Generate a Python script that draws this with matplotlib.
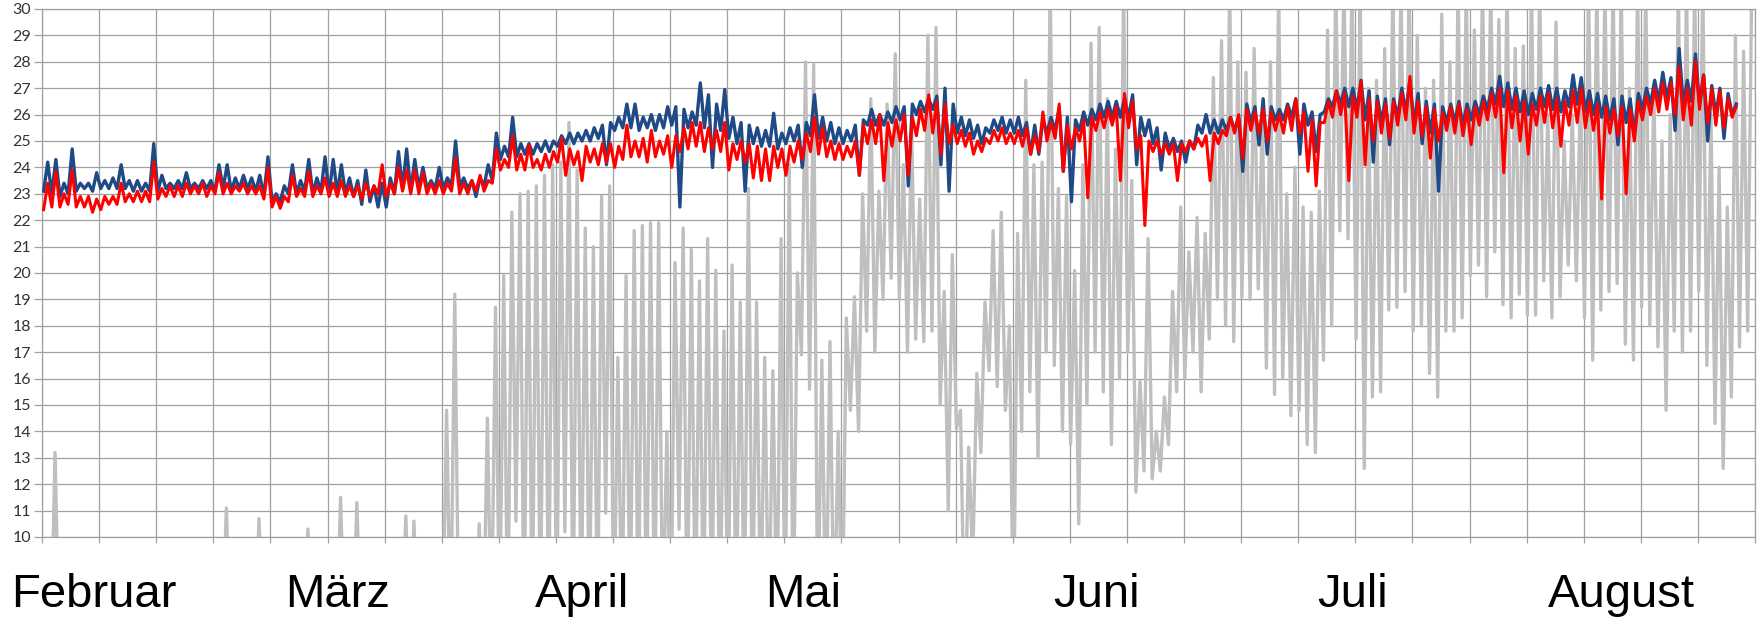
import numpy as np
import matplotlib.pyplot as plt

# Tageswerte (Max / Min), eine Zeile = eine Woche ab 1. Februar
blue_hi = [
    24.2, 24.3, 23.4, 24.7, 23.4, 23.4, 23.8,
    23.5, 23.6, 24.1, 23.5, 23.5, 23.4, 24.9,
    23.7, 23.4, 23.5, 23.8, 23.4, 23.5, 23.5,
    24.1, 24.1, 23.6, 23.7, 23.6, 23.7, 24.4,
    23.0, 23.3, 24.1, 23.5, 24.3, 23.6, 24.4,
    24.3, 24.1, 23.6, 23.5, 23.9, 23.3, 23.4,
    23.6, 24.6, 24.7, 24.3, 24.0, 23.5, 24.0,
    23.6, 25.0, 23.6, 23.5, 23.6, 24.1, 25.3,
    24.8, 25.9, 24.9, 24.9, 24.9, 25.0, 25.0,
    25.2, 25.3, 25.3, 25.4, 25.5, 25.6, 25.7,
    25.9, 26.4, 26.4, 25.9, 26.0, 26.0, 26.3,
    26.3, 26.2, 26.1, 27.2, 26.75, 26.4, 26.95,
    25.9, 25.7, 25.6, 25.5, 25.4, 26.05, 25.3,
    25.5, 25.6, 25.7, 26.75, 25.9, 25.7, 25.5,
    25.4, 25.6, 25.8, 26.2, 26.0, 26.1, 26.3,
    26.3, 26.4, 26.5, 26.6, 26.7, 27.0, 26.4,
    25.9, 25.8, 25.6, 25.5, 25.8, 25.9, 25.8,
    25.9, 25.7, 25.6, 25.8, 25.9, 26.25, 25.9,
    25.8, 26.1, 26.2, 26.4, 26.5, 26.5, 26.6,
    26.75, 25.9, 25.8, 25.5, 25.3, 25.1, 25.0,
    25.0, 25.6, 26.0, 25.8, 25.8, 25.9, 25.9,
    26.4, 26.3, 26.6, 26.3, 26.2, 26.4, 26.6,
    26.4, 26.1, 26.0, 26.6, 26.9, 27.0, 27.0,
    27.3, 26.9, 26.7, 26.6, 26.6, 27.0, 27.3,
    26.8, 26.5, 26.4, 26.3, 26.4, 26.5, 26.4,
    26.5, 26.7, 27.0, 27.45, 27.2, 27.0, 26.9,
    26.8, 27.0, 27.1, 27.0, 26.9, 27.5, 27.4,
    26.9, 26.8, 26.7, 26.6, 26.7, 26.6, 26.8,
    27.0, 27.3, 27.6, 27.4, 28.5, 27.3, 28.3,
    27.5, 27.1, 27.0, 26.8, 26.4,
]
blue_lo = [
    23.1, 23.0, 22.9, 23.0, 23.1, 23.2, 23.1,
    23.2, 23.2, 23.2, 23.2, 23.1, 23.1, 23.1,
    23.1, 23.2, 23.2, 23.2, 23.2, 23.2, 23.2,
    23.1, 23.2, 23.1, 23.2, 23.2, 23.1, 22.9,
    22.7, 22.7, 23.0, 23.0, 23.1, 23.0, 23.1,
    23.0, 23.0, 23.0, 22.9, 22.6, 22.7, 22.5,
    22.5, 23.0, 23.2, 23.1, 23.2, 23.2, 23.2,
    23.2, 23.3, 23.3, 23.2, 22.9, 23.3, 23.5,
    24.3, 24.4, 24.4, 24.5, 24.5, 24.6, 24.6,
    24.8, 24.9, 24.9, 25.0, 25.0, 25.1, 24.1,
    25.4, 25.5, 25.5, 25.4, 25.5, 25.4, 25.5,
    25.6, 22.5, 25.5, 25.6, 25.5, 24.0, 25.4,
    25.1, 24.9, 23.1, 24.9, 24.8, 24.8, 24.7,
    24.9, 25.0, 24.0, 25.2, 25.1, 25.0, 24.9,
    24.9, 25.0, 23.7, 25.6, 25.6, 25.6, 25.7,
    25.8, 23.3, 26.0, 26.1, 26.2, 24.1, 23.1,
    25.3, 25.2, 25.1, 24.9, 25.3, 25.4, 25.3,
    25.3, 25.2, 24.5, 24.5, 25.3, 25.4, 23.85,
    22.7, 25.4, 25.6, 25.8, 25.9, 25.9, 25.9,
    25.9, 24.1, 25.2, 24.9, 23.9, 24.7, 24.6,
    24.2, 24.7, 25.3, 25.3, 25.3, 25.4, 25.4,
    23.85, 25.7, 24.85, 24.5, 25.8, 25.8, 25.9,
    24.5, 25.6, 24.6, 26.1, 26.3, 26.4, 26.3,
    26.2, 25.8, 24.2, 25.7, 24.86, 25.9, 26.1,
    25.6, 24.9, 25.3, 23.1, 25.7, 25.7, 25.6,
    25.8, 26.0, 26.2, 26.4, 26.3, 26.2, 26.1,
    26.0, 26.2, 26.3, 26.2, 26.1, 26.3, 26.4,
    26.1, 26.0, 25.9, 25.8, 24.86, 25.7, 25.2,
    26.2, 26.4, 26.5, 26.6, 25.4, 26.4, 26.5,
    26.4, 25.0, 26.0, 25.1, 26.0,
]
red_hi = [
    23.4, 23.85, 23.0, 23.9, 22.9, 22.9, 22.8,
    22.9, 22.9, 23.4, 23.0, 23.1, 23.1, 24.2,
    23.2, 23.3, 23.3, 23.4, 23.3, 23.4, 23.3,
    23.8, 23.4, 23.3, 23.4, 23.3, 23.3, 24.0,
    22.9, 22.9, 23.7, 23.2, 23.85, 23.3, 23.6,
    23.4, 23.5, 23.3, 23.3, 23.4, 23.3, 24.1,
    23.4, 24.0, 23.9, 23.9, 23.8, 23.4, 23.5,
    23.4, 24.35, 23.4, 23.5, 23.7, 23.5, 24.7,
    24.3, 25.2, 24.5, 24.85, 24.3, 24.5, 24.6,
    25.1, 24.7, 24.6, 24.8, 24.7, 24.9, 24.9,
    24.8, 25.6, 25.0, 25.1, 25.4, 25.0, 25.2,
    25.2, 25.5, 25.7, 25.7, 25.5, 25.4, 25.7,
    24.9, 25.0, 24.9, 24.8, 24.7, 24.8, 24.7,
    24.8, 25.0, 25.3, 25.9, 25.5, 25.0, 24.9,
    24.8, 25.0, 25.6, 25.8, 26.0, 25.7, 25.8,
    26.0, 25.9, 26.2, 26.75, 26.5, 26.4, 25.6,
    25.4, 25.3, 25.0, 25.1, 25.4, 25.5, 25.3,
    25.4, 25.5, 25.2, 26.1, 25.7, 26.4, 25.6,
    25.5, 25.8, 25.9, 26.1, 26.2, 26.3, 26.8,
    26.5, 25.2, 25.0, 25.0, 24.9, 24.9, 24.9,
    25.0, 25.1, 25.2, 25.3, 25.4, 25.9, 26.0,
    26.2, 26.1, 26.2, 26.1, 26.0, 26.3, 26.6,
    26.1, 25.8, 25.7, 26.5, 26.9, 26.8, 26.7,
    27.26, 26.6, 26.5, 26.4, 26.5, 26.8, 27.45,
    26.5, 26.3, 26.2, 26.1, 26.3, 26.4, 26.2,
    26.3, 26.5, 26.8, 27.0, 26.9, 26.7, 26.5,
    26.4, 26.7, 26.8, 26.6, 26.5, 26.9, 27.0,
    26.5, 26.4, 26.3, 26.2, 26.3, 26.2, 26.5,
    26.7, 27.0, 27.2, 27.2, 27.8, 27.0, 28.0,
    27.5, 27.0, 26.9, 26.6, 26.3,
]
red_lo = [
    22.4, 22.5, 22.5, 22.6, 22.5, 22.5, 22.3,
    22.4, 22.6, 22.6, 22.7, 22.7, 22.7, 22.7,
    22.8, 22.9, 22.9, 22.9, 23.0, 23.0, 22.9,
    23.0, 23.0, 23.0, 23.1, 23.0, 23.0, 22.8,
    22.5, 22.45, 22.7, 22.9, 22.9, 22.9, 23.0,
    22.9, 22.9, 22.9, 22.9, 22.8, 22.9, 23.0,
    22.9, 23.0, 23.1, 23.0, 23.0, 23.0, 23.0,
    23.0, 23.1, 23.0, 23.0, 23.1, 23.1, 23.4,
    23.9, 24.0, 23.9, 23.9, 24.0, 23.9, 24.0,
    24.2, 23.7, 24.1, 23.5, 24.2, 24.1, 24.2,
    24.0, 24.3, 24.4, 24.4, 24.2, 24.4, 24.5,
    24.0, 24.6, 24.7, 24.8, 24.6, 24.7, 24.6,
    23.9, 24.3, 24.2, 23.6, 23.5, 23.5, 24.0,
    23.7, 24.2, 24.3, 24.6, 24.5, 24.4, 24.3,
    24.3, 24.4, 23.7, 24.9, 24.9, 23.5, 24.8,
    25.0, 23.7, 25.2, 25.4, 25.3, 24.5, 24.9,
    24.9, 24.8, 24.5, 24.6, 24.9, 25.0, 24.9,
    24.9, 24.8, 24.5, 24.6, 25.0, 25.1, 23.85,
    24.7, 25.0, 22.85, 25.4, 25.5, 25.6, 23.5,
    25.5, 24.7, 21.8, 24.6, 24.5, 24.5, 23.5,
    24.6, 24.7, 24.8, 23.5, 24.9, 25.2, 25.3,
    24.35, 25.4, 25.3, 25.0, 25.4, 25.3, 25.4,
    25.3, 23.85, 23.3, 25.7, 25.9, 26.0, 23.5,
    25.9, 24.1, 25.0, 25.3, 25.1, 25.6, 25.8,
    25.3, 25.2, 24.35, 25.0, 25.4, 25.3, 25.2,
    24.86, 25.6, 25.8, 25.9, 23.8, 25.5, 25.0,
    24.5, 25.6, 25.7, 25.5, 24.8, 25.6, 25.7,
    25.5, 25.4, 22.8, 25.3, 25.2, 23.0, 25.0,
    25.8, 26.0, 26.1, 26.2, 26.0, 25.8, 25.6,
    26.2, 25.7, 25.6, 25.5, 25.9,
]
gray_hi = [
    8, 13.2, 8, 8, 8, 8, 8,
    8, 8, 8, 8, 8, 8, 8,
    8, 8, 8, 8, 8, 8, 8,
    8, 11.1, 8, 8, 8, 10.7, 8,
    8, 8, 8, 8, 10.3, 8, 8,
    8, 11.5, 8, 11.3, 8, 8, 8,
    8, 8, 10.8, 10.6, 8, 8, 8,
    14.8, 19.2, 8, 8, 10.5, 14.5, 18.7,
    19.9, 22.3, 23.0, 23.1, 23.3, 23.7, 24.1,
    24.2, 25.7, 23.9, 21.7, 21.0, 22.9, 23.3,
    16.8, 19.9, 21.6, 21.8, 21.9, 21.9, 14.0,
    20.4, 21.7, 20.9, 19.7, 21.3, 20.1, 17.8,
    20.3, 18.9, 23.2, 18.9, 16.8, 16.3, 21.3,
    24.1, 20.0, 28.0, 27.9, 16.7, 17.4, 14.0,
    18.3, 19.1, 23.0, 26.6, 23.1, 26.4, 28.3,
    24.1, 25.6, 22.8, 29.0, 29.3, 19.3, 20.7,
    14.8, 13.4, 16.2, 18.9, 21.6, 22.3, 18.0,
    21.5, 27.3, 24.1, 24.2, 31, 23.2, 22.9,
    20.1, 24.1, 28.7, 29.3, 26.6, 24.7, 31,
    23.5, 15.9, 21.3, 14.0, 15.3, 19.3, 22.5,
    20.8, 22.1, 21.5, 27.4, 28.8, 31, 28.0,
    27.6, 28.5, 26.0, 28.0, 31, 23.0, 24.0,
    22.5, 22.3, 23.1, 29.2, 31, 31, 31,
    31, 27.0, 27.3, 28.5, 31, 31, 31,
    29.0, 27.0, 27.3, 29.8, 28.0, 31, 31,
    29.2, 31, 31, 29.6, 31, 28.5, 28.6,
    31, 31, 26.0, 29.5, 25.0, 26.0, 27.0,
    31, 31, 31, 31, 31, 27.0, 31,
    31, 27.0, 25.0, 26.0, 31, 31, 31,
    31, 26.0, 24.0, 22.5, 29.0, 28.4, 31,
]
gray_lo = [
    6, 6, 6, 6, 6, 6, 6,
    6, 6, 6, 6, 6, 6, 6,
    6, 6, 6, 6, 6, 6, 6,
    6, 6, 6, 6, 6, 6, 6,
    6, 6, 6, 6, 6, 6, 6,
    6, 6, 6, 6, 6, 6, 6,
    6, 6, 6, 6, 6, 6, 6,
    6, 6, 6, 6, 6, 6, 6,
    6, 6, 10.6, 6, 6, 6, 6,
    6, 10.2, 6, 6, 6, 6, 10.9,
    6, 6, 6, 6, 6, 6, 6,
    6, 10.3, 6, 6, 6, 6, 6,
    6, 6, 6, 6, 6, 6, 6,
    6, 6, 16.9, 15.6, 6, 6, 6,
    6, 14.8, 14.0, 17.8, 17.0, 19.0, 19.8,
    19.0, 17.0, 17.5, 17.4, 17.8, 15.0, 11.0,
    14.1, 6, 9, 13.2, 16.3, 15.7, 14.8,
    6, 14.0, 15.5, 13.0, 17.0, 16.5, 14.0,
    13.5, 10.5, 15.0, 17.0, 15.5, 13.5, 16.0,
    17.0, 11.7, 12.5, 12.2, 12.5, 13.5, 15.5,
    16.0, 17.0, 15.5, 17.5, 19.0, 18.0, 17.4,
    19.1, 19.0, 19.4, 16.4, 15.4, 16.0, 14.6,
    14.8, 13.5, 13.2, 16.7, 18.0, 21.6, 21.3,
    17.5, 12.6, 15.3, 15.5, 18.6, 18.7, 19.3,
    17.8, 18.0, 16.2, 15.3, 17.8, 17.8, 18.3,
    19.9, 20.3, 19.1, 20.8, 18.8, 18.3, 19.2,
    18.4, 18.4, 19.7, 18.3, 19.1, 20.3, 19.7,
    18.3, 16.7, 18.6, 19.3, 19.6, 17.3, 16.7,
    18.7, 18.0, 17.2, 14.8, 17.8, 17.0, 17.8,
    19.3, 16.5, 14.3, 12.6, 15.3, 17.2, 17.8,
]

month_names = ["Februar", "März", "April", "Mai", "Juni", "Juli", "August"]
month_label_day = [6.4, 36.2, 66.2, 93.3, 129.3, 160.7, 193.6]
y_ticks = list(range(10, 31))


def zigzag(lo, hi, t_lo, t_hi):
    # Tagesminimum und -maximum abwechselnd hintereinander
    d = np.arange(len(lo))
    t = np.empty(2 * len(lo))
    v = np.empty(2 * len(lo))
    t[0::2] = d + t_lo
    t[1::2] = d + t_hi
    v[0::2] = lo
    v[1::2] = hi
    return t, v


plt.rcParams['font.family'] = ['Lato', 'DejaVu Sans']

fig = plt.figure(figsize=(17.62, 6.17), dpi=100)
ax = fig.add_axes([42 / 1762, 80 / 617, 1713 / 1762, 528 / 617])

t, v = zigzag(gray_lo, gray_hi, 0.1, 0.6)
ax.plot(t, v, color='#BFBFBF', lw=2.4, zorder=2)
t, v = zigzag(blue_lo, blue_hi, 0.2, 0.7)
ax.plot(t, v, color='#1F4A86', lw=2.4, zorder=3)
t, v = zigzag(red_lo, red_hi, 0.2, 0.7)
ax.plot(t, v, color='#FF0000', lw=2.2, zorder=4)

ax.set_xlim(0, 210)
ax.set_ylim(10, 30)
ax.set_xticks(np.arange(0, 211, 7))
ax.set_xticklabels([])
ax.set_yticks(y_ticks)
ax.grid(True, color='#A0A0A0', lw=0.9)
ax.set_axisbelow(True)
ax.tick_params(axis='x', length=4, color='#A0A0A0', width=0.9)
ax.tick_params(axis='y', length=6, color='#A0A0A0', width=0.9,
               labelsize=11.5, labelcolor='#333333', pad=2)
for s in ax.spines.values():
    s.set_color('#A0A0A0')
    s.set_linewidth(0.9)

# Monatsnamen unter der Achse
for name, d in zip(month_names, month_label_day):
    ax.text(d, -0.133, name, transform=ax.get_xaxis_transform(),
            ha='center', va='baseline', fontsize=34, family='Liberation Sans')

fig.savefig('out.png', dpi=100)
